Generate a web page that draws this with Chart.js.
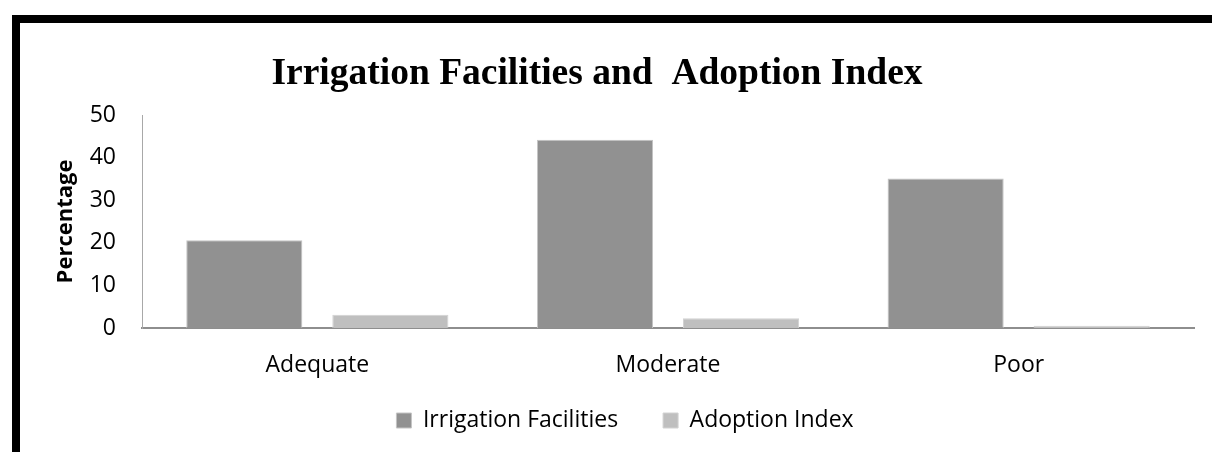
<!DOCTYPE html>
<html>
<head>
<meta charset="utf-8">
<script src="https://cdn.jsdelivr.net/npm/chart.js@4.4.1/dist/chart.umd.min.js"></script>
<style>
  html, body { margin: 0; padding: 0; background: #fff; }
  body { width: 1212px; height: 452px; overflow: hidden; position: relative; }
  #frame { position: absolute; left: 12px; top: 15px; width: 1300px; height: 600px;
           border-left: 8px solid #000; border-top: 8px solid #000; }
  #wrap { position: absolute; left: 0; top: 0; width: 1212px; height: 452px; }
</style>
</head>
<body>
<div id="frame"></div>
<div id="wrap"><canvas id="chart"></canvas></div>
<script>
const categories = ['Adequate', 'Moderate', 'Poor'];
const irrigation = [20.6, 44.2, 35.1];
const adoption = [3.1, 2.3, 0.5];
const yTicks = [0, 10, 20, 30, 40, 50];

// wide gap between legend items, but the legend sits close under the axis labels
const legendFit = {
  id: 'legendFit',
  beforeInit(chart) {
    const fit = chart.legend.fit;
    chart.legend.fit = function () {
      fit.call(this);
      this.height = 72;
    };
  },
  afterLayout(chart) {
    chart.legend.top -= 16;
    chart.legend.bottom -= 16;
    chart.legend.left += 28;
    chart.legend.right += 28;
  }
};

const ctx = document.getElementById('chart');
new Chart(ctx, {
  type: 'bar',
  data: {
    labels: categories,
    datasets: [
      {
        label: 'Irrigation Facilities',
        data: irrigation,
        backgroundColor: '#919191',
        borderColor: '#c4c4c4',
        borderWidth: 1
      },
      {
        label: 'Adoption Index',
        data: adoption,
        backgroundColor: '#bfbfbf',
        borderColor: '#d2d2d2',
        borderWidth: 1
      }
    ]
  },
  options: {
    responsive: true,
    maintainAspectRatio: false,
    animation: false,
    datasets: {
      bar: { categoryPercentage: 0.833, barPercentage: 0.795 }
    },
    layout: { padding: { left: 0, right: 18, top: 52, bottom: 0 } },
    plugins: {
      title: {
        display: true,
        text: 'Irrigation Facilities and  Adoption Index',
        color: '#000',
        font: { family: '"Liberation Serif", "Times New Roman", serif', size: 37.5, weight: 'bold' },
        padding: { top: 0, bottom: 18 }
      },
      legend: {
        position: 'bottom',
        labels: {
          color: '#000',
          font: { family: '"Open Sans", sans-serif', size: 23 },
          boxWidth: 15,
          boxHeight: 15,
          padding: 45
        }
      },
      tooltip: { enabled: false }
    },
    scales: {
      x: {
        grid: { display: false, drawTicks: false },
        border: { color: '#8e8e8e', width: 2 },
        ticks: {
          color: '#000',
          font: { family: '"Open Sans", sans-serif', size: 23 },
          padding: 24
        },
        afterFit(scale) {
          scale.paddingLeft = 0;
          scale.paddingRight = 0;
          scale.height = 52;
        }
      },
      y: {
        min: 0,
        max: 50,
        grid: { display: false, drawTicks: false },
        border: { color: '#a8a8a8', width: 1 },
        afterBuildTicks(scale) { scale.ticks = yTicks.map(v => ({ value: v })); },
        afterFit(scale) { scale.width = 142; },
        ticks: {
          color: '#000',
          font: { family: '"Open Sans", sans-serif', size: 23 },
          padding: 26
        },
        title: {
          display: true,
          text: 'Percentage',
          color: '#000',
          font: { family: '"Open Sans", sans-serif', size: 22, weight: 'bold' },
          padding: { top: 53, bottom: 0 }
        }
      }
    }
  },
  plugins: [legendFit]
});
</script>
</body>
</html>
